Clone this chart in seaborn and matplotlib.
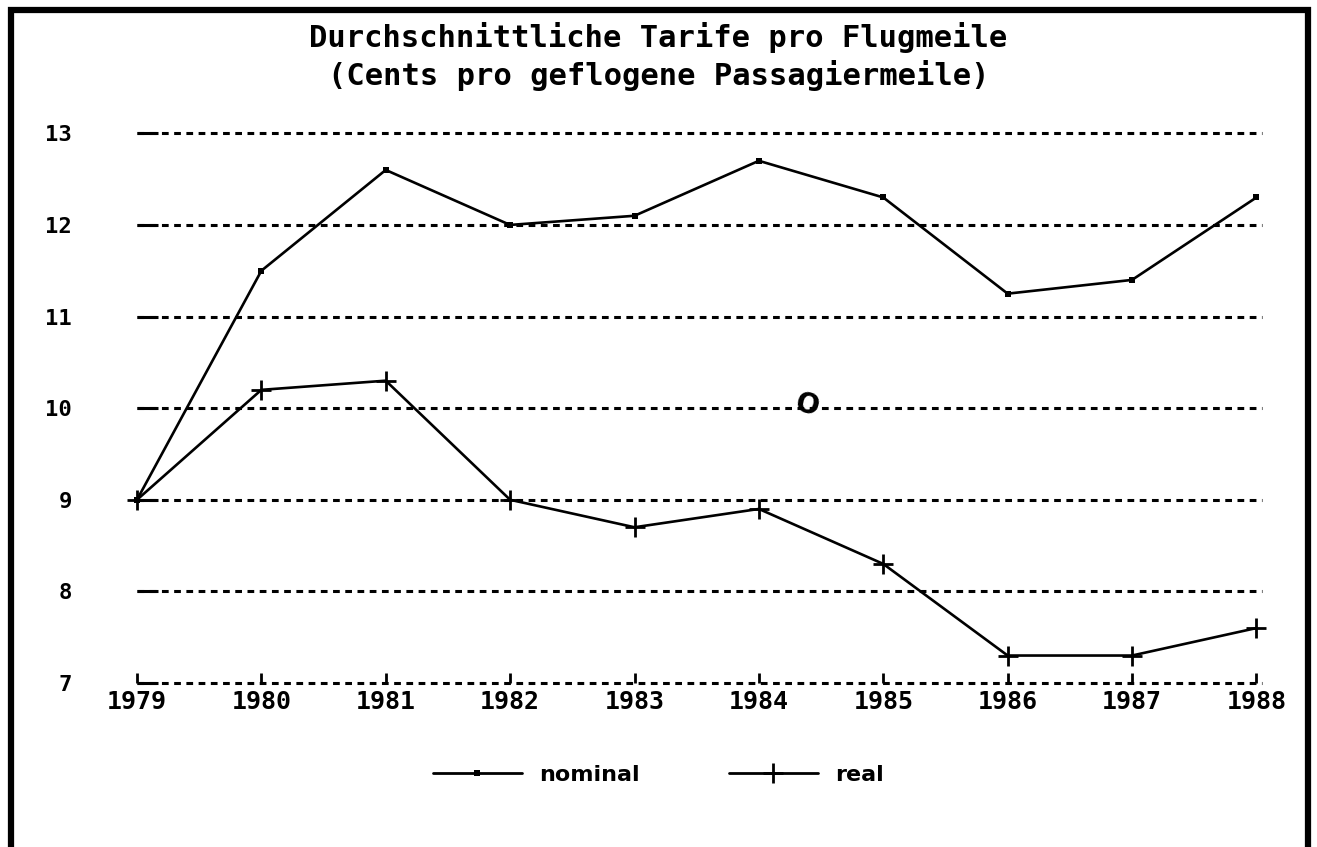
import pandas as pd
import matplotlib.pyplot as plt
import seaborn as sns
from matplotlib.patches import Rectangle
from matplotlib.lines import Line2D

# Daten
jahre = [1979, 1980, 1981, 1982, 1983, 1984, 1985, 1986, 1987, 1988]
nominal = [9.0, 11.5, 12.6, 12.0, 12.1, 12.7, 12.3, 11.25, 11.4, 12.3]
real = [9.0, 10.2, 10.3, 9.0, 8.7, 8.9, 8.3, 7.3, 7.3, 7.6]
y_ticks = [7, 8, 9, 10, 11, 12, 13]

titel = 'Durchschnittliche Tarife pro Flugmeile\n(Cents pro geflogene Passagiermeile)'

df = pd.DataFrame({'Jahr': jahre, 'nominal': nominal, 'real': real})

sns.set_style('white')
plt.rcParams['font.family'] = ['DejaVu Sans Mono', 'DejaVu Sans']
plt.rcParams['font.weight'] = 'bold'
plt.rcParams['text.color'] = 'black'
plt.rcParams['xtick.color'] = 'black'
plt.rcParams['ytick.color'] = 'black'

fig = plt.figure(figsize=(13.17, 8.47), dpi=100)
ax = fig.add_axes([0.104, 0.1936, 0.850, 0.649])

# gestrichelte Gitterlinien
for yv in y_ticks:
    ax.axhline(yv, xmin=0, xmax=1.005, color='black', lw=2.2,
               linestyle=(0, (2.2, 1.8)), zorder=1, clip_on=False)

sns.lineplot(data=df, x='Jahr', y='nominal', ax=ax, color='black', lw=1.9,
             marker='s', markersize=5, markeredgewidth=0, zorder=3)
sns.lineplot(data=df, x='Jahr', y='real', ax=ax, color='black', lw=1.9,
             marker='+', markersize=14, markeredgewidth=2,
             markeredgecolor='black', zorder=3)
for ln in ax.lines:
    ln.set_clip_on(False)

ax.set_xlim(1979, 1988)
ax.set_ylim(7, 13)
ax.set_xticks(jahre)
ax.set_xticklabels([str(j) for j in jahre], fontsize=18, fontweight='bold')
ax.set_yticks(y_ticks)
ax.set_yticklabels([str(v) for v in y_ticks], fontsize=16, fontweight='bold')
ax.tick_params(axis='y', direction='in', length=15, width=2.2, pad=47, left=True)
ax.tick_params(axis='x', direction='in', length=7, width=2, pad=5, bottom=True)
ax.set_xlabel('')
ax.set_ylabel('')
for s in ax.spines.values():
    s.set_visible(False)
if ax.get_legend() is not None:
    ax.get_legend().remove()

# handschriftliche Markierung
ax.text(1984.39, 10.03, 'O', fontsize=20, fontweight='bold', rotation=-15,
        ha='center', va='center', family='DejaVu Sans', color='black')

fig.text(0.5, 0.933, titel, ha='center', va='center', fontsize=22,
         fontweight='bold', linespacing=1.3)

handles = [Line2D([], [], color='black', lw=2, marker='s', markersize=5, markeredgewidth=0),
           Line2D([], [], color='black', lw=2, marker='+', markersize=14, markeredgewidth=2)]
fig.legend(handles, ['nominal', 'real'], loc='center', bbox_to_anchor=(0.5, 0.085),
           ncol=2, frameon=False, handlelength=4, columnspacing=4,
           prop={'weight': 'bold', 'size': 16, 'family': 'DejaVu Sans'})

# Rahmen
fig.patches.append(Rectangle((0.0085, -0.05), 0.985, 1.038, transform=fig.transFigure,
                             fill=False, lw=4.5, edgecolor='black'))

fig.savefig('out.png', dpi=100)
